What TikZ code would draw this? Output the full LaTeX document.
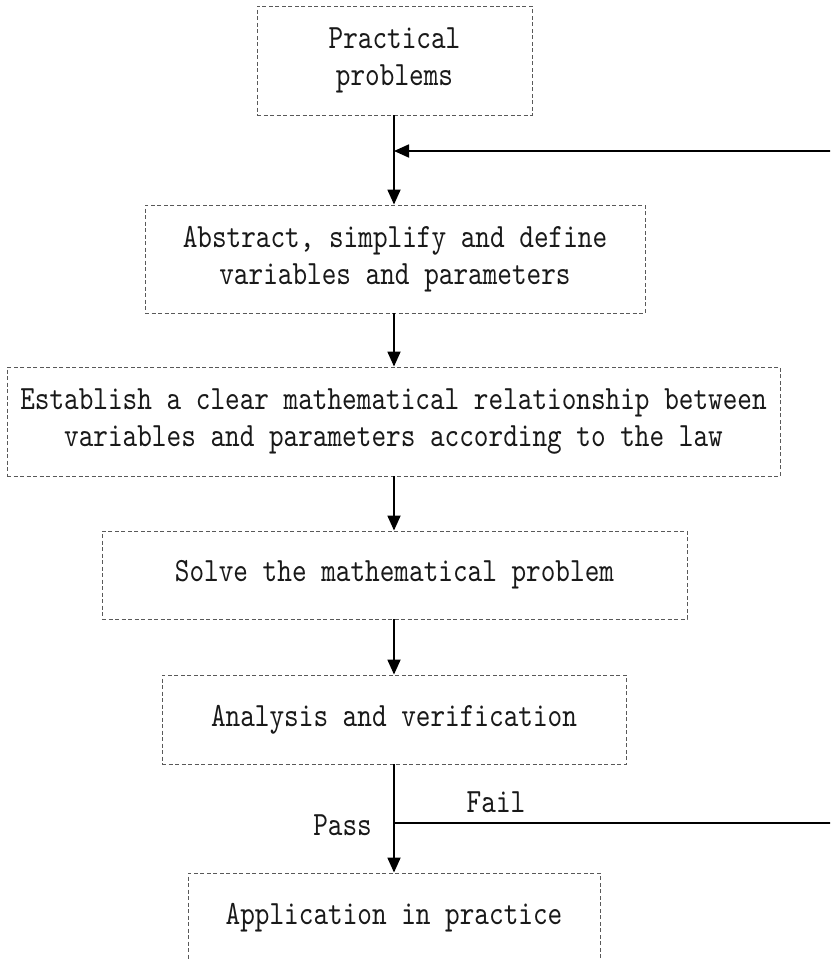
\documentclass[tikz,border=0pt]{standalone}
\usepackage{fontspec}
\setmonofont[FakeStretch=0.82]{lmmono10-regular.otf}
\usetikzlibrary{arrows.meta}
\tikzset{
  box/.style={draw=black!65, line width=0.9pt, dash pattern=on 4pt off 2.5pt,
    align=center, inner sep=0pt, font=\ttfamily\fontsize{34}{37}\selectfont, text=black!90},
  flow/.style={line width=1.8pt, draw=black, -{Triangle[length=15pt,width=13pt]}},
  plain/.style={line width=1.8pt, draw=black},
  lbl/.style={font=\ttfamily\fontsize{34}{37}\selectfont, text=black!90, inner sep=0pt}
}
\begin{document}
\begin{tikzpicture}[x=1pt,y=1pt]
\useasboundingbox (0,0) rectangle (830,-961);
\clip (0,0) rectangle (830,-961);
\node[box, minimum width=275, minimum height=109] (p1) at (394.5,-60.5) {Practical\\problems};
\node[box, minimum width=500, minimum height=108] (p2) at (395,-259) {Abstract, simplify and define\\variables and parameters};
\node[box, minimum width=773, minimum height=109] (p3) at (393.5,-421.5) {Establish a clear mathematical relationship between\\variables and parameters according to the law};
\node[box, minimum width=585, minimum height=88] (p4) at (394.5,-575) {Solve the mathematical problem};
\node[box, minimum width=464, minimum height=89] (p5) at (394,-719.5) {Analysis and verification};
\node[box, minimum width=412, minimum height=89] (p6) at (394,-917.5) {Application in practice};
\coordinate (join) at (394,-151);
\coordinate (split) at (394,-823);
\coordinate (rb) at (845,-823);
\coordinate (rt) at (845,-151);
\draw[flow] (p1.south -| join) -- (p2.north -| join);
\draw[flow] (p2.south -| join) -- (p3.north -| join);
\draw[flow] (p3.south -| join) -- (p4.north -| join);
\draw[flow] (p4.south -| join) -- (p5.north -| join);
\draw[flow] (p5.south -| join) -- (p6.north -| join);
\draw[plain] (split) -- (rb) -- (rt);
\draw[flow] (rt) -- (join);
\node[lbl, anchor=east] (pass) at (372,-825) {Pass};
\node[lbl] (fail) at (496,-802) {Fail};
\end{tikzpicture}
\end{document}
